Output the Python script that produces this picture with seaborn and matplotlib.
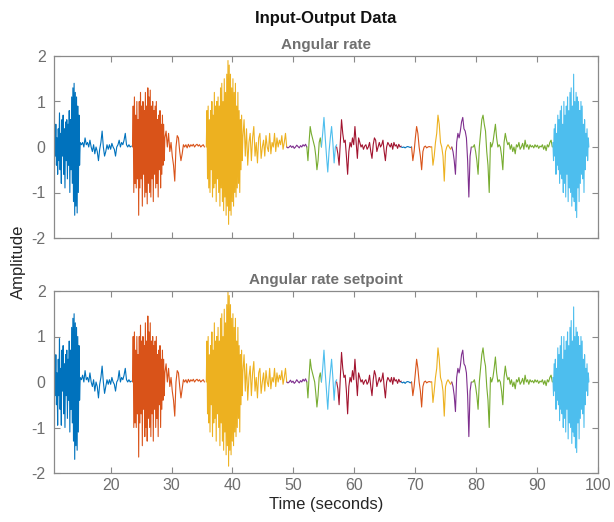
import numpy as np
import pandas as pd
import matplotlib
matplotlib.use("Agg")
import matplotlib.pyplot as plt
import seaborn as sns

# ---------------------------------------------------------------------------
# Recorded stretches: experiment number, start and end time (seconds)
# ---------------------------------------------------------------------------
piece_experiment = [1, 1, 2, 2, 3, 3, 4, 5, 6, 7, 8, 9, 10, 11, 12, 13]
piece_start = [10.7, 15.2, 23.6, 29.1, 35.7, 41.9, 48.9, 52.2, 54.6, 57.1,
               67.7, 69.4, 72.7, 76.0, 79.3, 92.6]
piece_end = [15.0, 23.4, 28.9, 35.4, 41.7, 48.9, 52.2, 54.6, 57.1, 67.7,
             69.4, 72.7, 76.0, 79.2, 92.5, 98.5]

# ---------------------------------------------------------------------------
# Output channel: angular rate
# ---------------------------------------------------------------------------
rate_exp1_burst = [0.0, 0.3, -0.2, 0.5, -0.4, 0.2, -0.6, 0.4, -0.3, 0.75,
                   -0.5, 0.3, -0.8, 0.6, -0.2, 0.7, -0.6, 0.4, -0.9, 0.55,
                   -0.3, 0.6, -0.7, 0.5, -0.4, 0.8, -1.0, 0.6, -0.5, 1.1,
                   -0.8, 1.3, -1.2, 1.4, -1.5, 1.2, -1.3, 1.1, -1.45, 0.9,
                   -1.0, 0.7, -0.4, 0.1]
rate_exp1_tail = [0.05, 0.1, 0.0, 0.2, 0.05, 0.1, 0.0, 0.15, 0.0, -0.1,
                  0.05, -0.15, 0.0, -0.1, -0.3, -0.05, 0.1, 0.35, 0.0, -0.2,
                  -0.1, 0.05, -0.05, 0.05, -0.05, 0.08, 0.0, -0.05, -0.2, 0.0,
                  0.05, 0.15, 0.0, 0.1, 0.05, 0.15, 0.3, 0.05, 0.0, 0.05,
                  0.0, 0.02]
rate_exp2_burst = [0.0, 0.9, -1.0, 1.1, -0.8, 0.7, -0.9, 1.0, -0.7, 0.6,
                   -1.5, 1.0, -0.9, 1.2, -0.7, 0.9, -1.3, 1.0, -0.6, 0.8,
                   -1.1, 1.2, -1.0, 0.9, -1.25, 1.3, -0.8, 1.1, -1.0, 1.25,
                   -1.1, 0.9, -0.7, 1.0, -1.2, 0.8, -0.6, 0.9, -0.9, 1.0,
                   -0.8, 0.6, -1.1, 0.7, -0.5, 0.8, -0.9, 0.5, -0.6, 0.7,
                   -0.4, 0.5, -0.3, 0.2]
rate_exp2_tail = [0.35, 0.0, 0.3, -0.1, 0.1, -0.2, -0.4, -0.75, 0.0, 0.25,
                  0.2, -0.1, -0.3, -0.15, 0.05, 0.0, 0.05, -0.02, 0.06, 0.0,
                  0.05, 0.02, 0.06, 0.0, 0.04, 0.06, 0.02, 0.05, 0.0, 0.03,
                  0.05, 0.0]
rate_exp3_burst = [0.0, 0.8, -0.7, 0.9, -0.9, 0.6, -1.0, 0.8, -0.5, 1.0,
                   -1.1, 0.7, -0.9, 1.2, -0.8, 0.9, -1.2, 1.0, -0.7, 1.1,
                   -1.0, 0.9, -1.3, 1.3, -0.9, 1.4, -1.2, 1.0, -1.4, 1.5,
                   -1.1, 1.2, -1.5, 1.6, -1.3, 1.9, -1.7, 1.8, -1.4, 1.6,
                   -1.5, 1.3, -1.2, 1.5, -1.3, 1.2, -1.0, 1.4, -1.1, 0.9,
                   -0.9, 1.2, -0.8, 0.8, -1.0, 0.6, -0.5, 0.7, -0.3, 0.2]
rate_exp3_tail = [0.6, -0.2, 0.4, -0.4, 0.1, 0.3, -0.3, 0.2, 0.45, -0.2,
                  0.1, -0.35, 0.2, 0.3, -0.25, 0.0, 0.15, -0.2, 0.25, 0.0,
                  -0.1, 0.3, -0.15, 0.1, 0.0, 0.3, -0.1, 0.2, 0.0, 0.15,
                  0.05, 0.25, -0.05, 0.1, 0.3, 0.0]
rate_exp4 = [0.0, -0.02, 0.0, 0.03, -0.01, 0.02, -0.03, 0.0, 0.04, 0.01,
             -0.02, 0.03, 0.0, 0.05, 0.02, 0.06, 0.0]
rate_exp5 = [0.0, -0.3, 0.1, 0.45, 0.3, 0.2, 0.1, 0.0, -0.2, -0.5,
             -0.3, 0.1, 0.2, 0.0]
rate_exp6 = [0.0, 0.3, 0.65, 0.2, -0.2, -0.55, -0.1, 0.2, 0.45, 0.1,
             -0.35, 0.0, 0.05]
rate_exp7 = [0.0, -0.15, -0.4, 0.1, 0.6, 0.3, 0.1, 0.15, -0.2, -0.6,
             -0.1, 0.1, 0.0, 0.2, 0.05, 0.45, 0.1, -0.25, 0.2, 0.1,
             0.0, 0.05, -0.05, 0.02, 0.05, -0.05, 0.0, 0.1, -0.1, -0.25,
             0.05, 0.2, 0.15, -0.1, 0.0, 0.1, 0.0, 0.05, 0.15, -0.1,
             -0.3, 0.0, 0.1, 0.05, 0.0, 0.08, -0.05, 0.1, 0.02, 0.05,
             -0.03, 0.06, 0.0, 0.02]
rate_exp8 = [0.0, -0.01, 0.0, -0.02, 0.0, 0.01, 0.0, -0.01, 0.0]
rate_exp9 = [0.0, -0.3, -0.1, 0.2, 0.45, 0.3, 0.0, -0.2, -0.5, -0.1,
             0.0, 0.02, -0.02, 0.0, 0.01, 0.0, 0.0]
rate_exp10 = [0.0, -0.4, -0.2, 0.1, 0.3, 0.7, 0.5, 0.1, 0.0, -0.2,
              -0.75, -0.1, 0.0, 0.05, 0.0, -0.05, 0.0]
rate_exp11 = [0.0, -0.1, -0.3, -0.6, 0.1, 0.3, 0.2, 0.35, 0.55, 0.65,
              0.4, 0.35, 0.2, -0.3, -1.1, -0.2, 0.0]
rate_exp12 = [0.0, 0.0, 0.05, -0.1, -0.3, -0.6, 0.0, 0.3, 0.6, 0.7,
              0.5, 0.35, -0.1, -0.4, -1.0, 0.1, 0.0, 0.1, 0.3, 0.5,
              0.2, 0.0, 0.05, 0.0, -0.2, -0.5, 0.1, 0.3, 0.15, 0.05,
              0.1, -0.05, 0.05, -0.1, 0.0, -0.15, 0.05, 0.0, 0.1, -0.05,
              0.0, 0.08, -0.05, 0.15, 0.0, 0.05, -0.05, 0.05, 0.0, 0.03,
              -0.02, 0.05, 0.0, 0.04, -0.03, 0.02, 0.0, 0.05, -0.05, 0.03,
              -0.08, 0.05, 0.0, 0.1, 0.15, 0.0]
rate_exp13 = [0.1, -0.3, 0.4, -0.2, 0.5, -0.6, 0.3, -0.4, 0.7, -0.5,
              0.6, -0.8, 0.8, -0.6, 0.9, -0.7, 0.5, -1.0, 1.0, -0.8,
              0.7, -1.1, 0.9, -0.6, 1.1, -1.2, 0.8, -0.9, 1.2, -1.0,
              1.3, -1.3, 0.9, -1.1, 1.6, -1.2, 1.0, -1.4, 1.2, -1.55,
              1.1, -0.9, 1.0, -1.2, 0.8, -0.8, 1.0, -0.6, 0.9, -0.7,
              0.5, -1.0, 0.6, -0.5, 0.3, -0.2, 0.4, -0.3, 0.2, 0.0]

# ---------------------------------------------------------------------------
# Input channel: angular rate setpoint
# ---------------------------------------------------------------------------
setpoint_exp1_burst = [0.0, 0.55, -0.3, 0.6, -0.5, 0.2, -0.95, 0.5, -0.3, 0.95,
                       -0.6, 0.3, -0.95, 0.7, -0.2, 0.8, -0.7, 0.4, -1.0, 0.6,
                       -0.3, 0.7, -0.8, 0.5, -0.4, 0.9, -1.1, 0.7, -0.6, 1.2,
                       -0.9, 1.4, -1.3, 1.5, -1.7, 1.3, -1.4, 1.2, -1.5, 1.0,
                       -1.1, 0.8, -0.4, 0.1]
setpoint_exp1_tail = [0.05, 0.15, 0.0, 0.25, 0.05, 0.1, 0.0, 0.2, 0.0, -0.1,
                      0.05, -0.2, 0.0, -0.1, -0.35, -0.05, 0.1, 0.35, 0.0, -0.25,
                      -0.1, 0.05, -0.05, 0.05, -0.05, 0.1, 0.0, -0.05, -0.2, 0.0,
                      0.05, 0.25, 0.0, 0.1, 0.05, 0.15, 0.3, 0.05, 0.0, 0.05,
                      0.0, 0.02]
setpoint_exp2_burst = [0.0, 1.0, -1.0, 1.1, -0.9, 0.7, -1.0, 1.0, -0.7, 0.6,
                       -1.65, 1.0, -0.9, 1.25, -0.7, 0.9, -1.4, 1.0, -0.6, 0.8,
                       -1.2, 1.3, -1.0, 0.9, -1.3, 1.45, -0.8, 1.1, -1.0, 1.3,
                       -1.2, 0.9, -0.7, 1.0, -1.3, 0.8, -0.6, 0.9, -1.0, 1.0,
                       -0.8, 0.6, -1.2, 0.7, -0.5, 0.8, -1.0, 0.5, -0.6, 0.7,
                       -0.4, 0.5, -0.3, 0.2]
setpoint_exp2_tail = [0.4, 0.0, 0.3, -0.1, 0.1, -0.2, -0.4, -0.75, 0.0, 0.25,
                      0.2, -0.1, -0.35, -0.15, 0.05, 0.0, 0.05, -0.02, 0.06, 0.0,
                      0.05, 0.02, 0.06, 0.0, 0.04, 0.06, 0.02, 0.05, 0.0, 0.03,
                      0.05, 0.0]
setpoint_exp3_burst = [0.0, 0.9, -0.7, 1.0, -0.9, 0.6, -1.1, 0.8, -0.5, 1.1,
                       -1.2, 0.7, -0.9, 1.3, -0.8, 0.9, -1.3, 1.0, -0.7, 1.2,
                       -1.0, 0.9, -1.4, 1.4, -0.9, 1.5, -1.3, 1.0, -1.5, 1.6,
                       -1.1, 1.3, -1.6, 1.7, -1.4, 2.0, -1.85, 1.9, -1.5, 1.7,
                       -1.6, 1.4, -1.3, 1.5, -1.4, 1.2, -1.1, 1.4, -1.2, 0.9,
                       -1.0, 1.2, -0.8, 0.8, -1.1, 0.6, -0.5, 0.7, -0.3, 0.2]
setpoint_exp3_tail = [0.6, -0.2, 0.4, -0.4, 0.1, 0.35, -0.3, 0.2, 0.45, -0.2,
                      0.1, -0.35, 0.2, 0.3, -0.25, 0.0, 0.2, -0.2, 0.25, 0.0,
                      -0.1, 0.3, -0.15, 0.1, 0.0, 0.3, -0.1, 0.2, 0.0, 0.15,
                      0.05, 0.25, -0.05, 0.1, 0.3, 0.0]
setpoint_exp4 = [0.0, -0.02, 0.0, 0.04, -0.01, 0.02, -0.03, 0.0, 0.05, 0.01,
                 -0.02, 0.03, 0.0, 0.06, 0.02, 0.07, 0.0]
setpoint_exp5 = [0.0, -0.35, 0.1, 0.5, 0.3, 0.2, 0.1, 0.0, -0.25, -0.55,
                 -0.3, 0.1, 0.2, 0.0]
setpoint_exp6 = [0.0, 0.3, 0.7, 0.2, -0.2, -0.6, -0.1, 0.2, 0.5, 0.1,
                 -0.4, 0.0, 0.05]
setpoint_exp7 = [0.0, -0.15, -0.5, 0.1, 0.65, 0.3, 0.1, 0.15, -0.2, -0.7,
                 -0.1, 0.1, 0.0, 0.25, 0.05, 0.5, 0.1, -0.3, 0.2, 0.1,
                 0.0, 0.05, -0.05, 0.02, 0.05, -0.05, 0.0, 0.15, -0.1, -0.3,
                 0.05, 0.25, 0.15, -0.1, 0.0, 0.1, 0.0, 0.05, 0.2, -0.1,
                 -0.35, 0.0, 0.1, 0.05, 0.0, 0.1, -0.05, 0.1, 0.02, 0.05,
                 -0.03, 0.06, 0.0, 0.02]
setpoint_exp8 = [0.0, -0.02, 0.0, -0.03, 0.0, 0.01, 0.0, -0.02, 0.0]
setpoint_exp9 = [0.0, -0.3, -0.1, 0.2, 0.5, 0.3, 0.0, -0.2, -0.55, -0.1,
                 0.0, 0.02, -0.02, 0.0, 0.01, 0.0, 0.0]
setpoint_exp10 = [0.0, -0.45, -0.2, 0.1, 0.3, 0.75, 0.5, 0.1, 0.0, -0.2,
                  -0.75, -0.1, 0.0, 0.05, 0.0, -0.05, 0.0]
setpoint_exp11 = [0.0, -0.1, -0.3, -0.65, 0.1, 0.3, 0.2, 0.35, 0.6, 0.7,
                  0.4, 0.35, 0.2, -0.3, -1.2, -0.2, 0.0]
setpoint_exp12 = [0.0, 0.0, 0.05, -0.1, -0.3, -0.6, 0.0, 0.3, 0.6, 0.75,
                  0.5, 0.35, -0.1, -0.4, -1.0, 0.1, 0.0, 0.1, 0.3, 0.55,
                  0.2, 0.0, 0.05, 0.0, -0.2, -0.5, 0.1, 0.35, 0.15, 0.05,
                  0.1, -0.05, 0.05, -0.1, 0.0, -0.15, 0.05, 0.0, 0.1, -0.05,
                  0.0, 0.08, -0.05, 0.15, 0.0, 0.05, -0.05, 0.05, 0.0, 0.03,
                  -0.02, 0.05, 0.0, 0.04, -0.03, 0.02, 0.0, 0.05, -0.05, 0.03,
                  -0.08, 0.05, 0.0, 0.1, 0.15, 0.0]
setpoint_exp13 = [0.1, -0.3, 0.4, -0.2, 0.5, -0.6, 0.3, -0.4, 0.75, -0.5,
                  0.6, -0.85, 0.8, -0.6, 1.0, -0.7, 0.5, -1.0, 1.0, -0.8,
                  0.7, -1.1, 0.9, -0.6, 1.1, -1.25, 0.8, -0.9, 1.2, -1.0,
                  1.35, -1.35, 0.9, -1.1, 1.65, -1.2, 1.0, -1.45, 1.2, -1.55,
                  1.1, -0.9, 1.0, -1.25, 0.8, -0.8, 1.0, -0.6, 0.9, -0.7,
                  0.5, -1.0, 0.6, -0.5, 0.3, -0.2, 0.4, -0.3, 0.2, 0.0]

rate_pieces = [rate_exp1_burst, rate_exp1_tail, rate_exp2_burst, rate_exp2_tail,
               rate_exp3_burst, rate_exp3_tail, rate_exp4, rate_exp5, rate_exp6,
               rate_exp7, rate_exp8, rate_exp9, rate_exp10, rate_exp11,
               rate_exp12, rate_exp13]
setpoint_pieces = [setpoint_exp1_burst, setpoint_exp1_tail, setpoint_exp2_burst,
                   setpoint_exp2_tail, setpoint_exp3_burst, setpoint_exp3_tail,
                   setpoint_exp4, setpoint_exp5, setpoint_exp6, setpoint_exp7,
                   setpoint_exp8, setpoint_exp9, setpoint_exp10, setpoint_exp11,
                   setpoint_exp12, setpoint_exp13]

channel_titles = ["Angular rate", "Angular rate setpoint"]
x_ticks = [20, 30, 40, 50, 60, 70, 80, 90, 100]
y_ticks = [-2, -1, 0, 1, 2]

# MATLAB default line color order, cycled over the experiments
line_colors = ["#0072BD", "#D95319", "#EDB120", "#7E2F8E",
               "#77AC30", "#4DBEEE", "#A2142F"]


def build_frame(pieces):
    rows = []
    for exp, t0, t1, vals in zip(piece_experiment, piece_start, piece_end, pieces):
        t = np.linspace(t0, t1, len(vals))
        rows.append(pd.DataFrame({"time": t, "value": vals, "experiment": exp}))
    return pd.concat(rows, ignore_index=True)


frames = [build_frame(rate_pieces), build_frame(setpoint_pieces)]
n_exp = max(piece_experiment)
palette = {i: line_colors[(i - 1) % len(line_colors)] for i in range(1, n_exp + 1)}

sns.set_style("white")
plt.rcParams["font.family"] = ["Liberation Sans", "DejaVu Sans"]
plt.rcParams["axes.unicode_minus"] = False

fig = plt.figure(figsize=(6.14, 5.22), dpi=100)
ax_top = fig.add_axes([54 / 614, 1 - 238 / 522, 544 / 614, 182 / 522])
ax_bot = fig.add_axes([54 / 614, 1 - 473 / 522, 544 / 614, 182 / 522])

axis_grey = "#8a8a8a"
label_grey = "#6e6e6e"

for ax, df, title in zip([ax_top, ax_bot], frames, channel_titles):
    sns.lineplot(data=df, x="time", y="value", hue="experiment",
                 palette=palette, estimator=None, legend=False,
                 linewidth=0.8, ax=ax)
    ax.set_xlim(10.7, 100)
    ax.set_ylim(-2, 2)
    ax.set_xticks(x_ticks)
    ax.set_yticks(y_ticks)
    ax.set_xlabel("")
    ax.set_ylabel("")
    ax.set_title(title, fontsize=11, fontweight="bold", color="#707070", pad=5)
    for s in ax.spines.values():
        s.set_color(axis_grey)
        s.set_linewidth(0.9)
    ax.tick_params(direction="in", length=4, width=0.8, color=axis_grey,
                   labelcolor=label_grey, labelsize=11.5,
                   top=True, right=True, bottom=True, left=True)
    ax.tick_params(axis="y", pad=6)

ax_top.set_xticklabels([])
ax_bot.set_xlabel("Time (seconds)", fontsize=12, color="#262626", labelpad=3)

fig.text(0.531, 1 - 18 / 522, "Input-Output Data", ha="center", va="center",
         fontsize=12, fontweight="bold", color="#111111")
fig.text(0.03, 1 - 262 / 522, "Amplitude", ha="center", va="center",
         rotation=90, fontsize=12, color="#262626")

fig.savefig("out.png", dpi=100)
